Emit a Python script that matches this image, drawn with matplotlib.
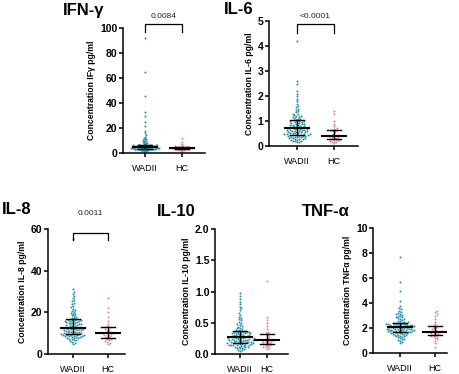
import numpy as np
import matplotlib
matplotlib.use("Agg")
import matplotlib.pyplot as plt

plt.rcParams['font.family'] = ['Liberation Sans', 'DejaVu Sans']

groups = ["WADII", "HC"]
wadii_color = "#2f93a8"
hc_color = "#e0899a"

# IFN-gamma (pg/ml)
ifn_wadii = [1.5, 1.8, 2.0, 2.1, 2.3, 2.4, 2.5, 2.6, 2.7, 2.8, 2.9, 2.9, 3.0, 3.0, 3.1, 3.1, 3.2, 3.2, 3.3, 3.3, 3.4, 3.4, 3.4, 3.5, 3.5,
             3.6, 3.6, 3.7, 3.7, 3.8, 3.8, 3.9, 3.9, 4.0, 4.0, 4.1, 4.1, 4.2, 4.2, 4.3, 4.4, 4.4, 4.5, 4.5, 4.6, 4.7, 4.8, 4.8, 4.9, 5.0,
             5.0, 5.1, 5.1, 5.2, 5.3, 5.3, 5.4, 5.5, 5.5, 5.6, 5.7, 5.7, 5.8, 5.9, 5.9, 6.0, 6.0, 6.1, 6.1, 6.2, 6.3, 6.3, 6.4, 6.5, 6.5,
             6.7, 7.0, 7.3, 7.6, 8.0, 8.3, 8.7, 9.0, 9.5, 10.0, 10.5, 11.0, 11.5, 12.0, 13.0, 14.5, 16.0, 18.0, 22.0, 25.0, 30.0, 33.0, 46.0, 65.0, 92.0]
ifn_hc = [2.0, 2.3, 2.5, 2.7, 2.9, 3.0, 3.1, 3.2, 3.4, 3.5, 3.6, 3.7, 3.8, 3.9, 4.0, 4.0, 4.1, 4.2, 4.3, 4.4, 4.5, 4.6, 4.8, 4.9, 5.0,
          5.2, 5.5, 5.8, 6.3, 7.0, 9.0, 12.0]

# IL-6
il6_wadii = [0.15, 0.17, 0.19, 0.2, 0.22, 0.24, 0.25, 0.27, 0.28, 0.3, 0.31, 0.32, 0.33, 0.35, 0.36, 0.37, 0.38, 0.39, 0.4, 0.41, 0.42, 0.43, 0.44, 0.44, 0.45,
             0.46, 0.47, 0.48, 0.49, 0.5, 0.51, 0.52, 0.53, 0.54, 0.55, 0.56, 0.57, 0.58, 0.59, 0.6, 0.61, 0.62, 0.63, 0.64, 0.65, 0.66, 0.67, 0.68, 0.69, 0.7,
             0.71, 0.72, 0.74, 0.75, 0.76, 0.78, 0.79, 0.8, 0.82, 0.83, 0.85, 0.86, 0.88, 0.89, 0.9, 0.92, 0.93, 0.95, 0.96, 0.98, 0.99, 1.0, 1.02, 1.03, 1.05,
             1.08, 1.1, 1.12, 1.15, 1.18, 1.2, 1.22, 1.25, 1.28, 1.3, 1.35, 1.4, 1.45, 1.5, 1.55, 1.6, 1.7, 1.8, 1.9, 2.0, 2.1, 2.2, 2.5, 2.6, 4.2]
il6_hc = [0.12, 0.15, 0.18, 0.2, 0.22, 0.24, 0.25, 0.27, 0.3, 0.32, 0.34, 0.36, 0.38, 0.4, 0.4, 0.42, 0.44, 0.46, 0.5, 0.55,
          0.6, 0.63, 0.65, 0.68, 0.72, 0.8, 0.9, 1.0, 1.3, 1.4]

# IL-8
il8_wadii = [5.0, 5.5, 6.0, 6.3, 6.6, 6.9, 7.1, 7.3, 7.5, 7.7, 7.9, 8.0, 8.2, 8.3, 8.5, 8.6, 8.7, 8.8, 8.9, 9.0, 9.1, 9.2, 9.3, 9.4, 9.5,
             9.6, 9.7, 9.8, 9.9, 10.0, 10.1, 10.3, 10.4, 10.5, 10.7, 10.8, 11.0, 11.1, 11.2, 11.4, 11.5, 11.6, 11.8, 11.9, 12.0, 12.1, 12.2, 12.3, 12.4, 12.5,
             12.6, 12.8, 12.9, 13.1, 13.3, 13.5, 13.7, 13.8, 14.0, 14.2, 14.4, 14.5, 14.7, 14.9, 15.0, 15.2, 15.4, 15.5, 15.7, 15.8, 16.0, 16.1, 16.2, 16.4, 16.5,
             16.8, 17.1, 17.5, 17.8, 18.2, 18.6, 19.0, 19.4, 19.8, 20.3, 20.8, 21.3, 21.8, 22.4, 23.0, 23.8, 24.5, 25.3, 26.0, 27.0, 28.0, 29.0, 30.0, 31.0, 55.0]
il8_hc = [5.0, 5.5, 6.0, 6.3, 6.7, 7.0, 7.2, 7.5, 8.0, 8.3, 8.7, 9.0, 9.3, 9.6, 10.0, 10.0, 10.4, 10.8, 11.2, 11.6,
          12.0, 12.5, 13.0, 13.5, 14.5, 16.0, 18.0, 20.0, 22.0, 27.0]

# IL-10
il10_wadii = [0.05, 0.06, 0.07, 0.08, 0.09, 0.10, 0.10, 0.11, 0.11, 0.12, 0.12, 0.13, 0.13, 0.14, 0.14, 0.14, 0.15, 0.15, 0.15, 0.16, 0.16, 0.16, 0.17, 0.17, 0.17,
              0.18, 0.18, 0.19, 0.19, 0.19, 0.2, 0.2, 0.2, 0.21, 0.21, 0.21, 0.22, 0.22, 0.22, 0.23, 0.23, 0.23, 0.24, 0.24, 0.24, 0.25, 0.25, 0.25, 0.26, 0.26,
              0.27, 0.27, 0.28, 0.28, 0.29, 0.29, 0.3, 0.3, 0.3, 0.31, 0.31, 0.32, 0.32, 0.33, 0.33, 0.33, 0.34, 0.34, 0.35, 0.35, 0.35, 0.36, 0.36, 0.37, 0.37,
              0.38, 0.39, 0.4, 0.41, 0.42, 0.44, 0.45, 0.47, 0.48, 0.5, 0.52, 0.54, 0.56, 0.58, 0.6, 0.63, 0.66, 0.7, 0.73, 0.76, 0.8, 0.84, 0.88, 0.93, 0.98]
il10_hc = [0.08, 0.1, 0.11, 0.12, 0.13, 0.14, 0.15, 0.16, 0.17, 0.18, 0.19, 0.2, 0.21, 0.21, 0.22, 0.22, 0.23, 0.24, 0.26, 0.28,
           0.3, 0.32, 0.33, 0.35, 0.4, 0.45, 0.5, 0.55, 0.6, 1.17]

# TNF-alpha
tnf_wadii = [0.8, 0.9, 1.0, 1.05, 1.1, 1.15, 1.2, 1.25, 1.3, 1.33, 1.36, 1.4, 1.42, 1.45, 1.48, 1.5, 1.52, 1.55, 1.57, 1.6, 1.62, 1.64, 1.66, 1.68, 1.7,
             1.71, 1.72, 1.74, 1.75, 1.76, 1.78, 1.79, 1.8, 1.82, 1.83, 1.85, 1.86, 1.88, 1.89, 1.9, 1.92, 1.93, 1.95, 1.96, 1.98, 1.99, 2.0, 2.02, 2.03, 2.05,
             2.06, 2.08, 2.09, 2.1, 2.12, 2.13, 2.15, 2.16, 2.18, 2.19, 2.2, 2.22, 2.23, 2.25, 2.26, 2.28, 2.29, 2.3, 2.32, 2.33, 2.35, 2.36, 2.38, 2.39, 2.4,
             2.45, 2.5, 2.55, 2.6, 2.65, 2.7, 2.75, 2.8, 2.85, 2.9, 2.95, 3.0, 3.05, 3.1, 3.15, 3.2, 3.3, 3.4, 3.5, 3.6, 3.8, 4.2, 5.0, 5.7, 7.7]
tnf_hc = [0.5, 0.8, 1.0, 1.1, 1.2, 1.3, 1.35, 1.4, 1.45, 1.5, 1.55, 1.6, 1.65, 1.7, 1.7, 1.72, 1.75, 1.8, 1.85, 1.9,
          2.0, 2.1, 2.15, 2.3, 2.5, 2.7, 3.0, 3.1, 3.3, 3.4]

titles = ["IFN-γ", "IL-6", "IL-8", "IL-10", "TNF-α"]
ylabels = ["Concentration IFγ pg/ml", "Concentration IL-6 pg/ml", "Concentration IL-8 pg/ml",
           "Concentration IL-10 pg/ml", "Concentration TNFα pg/ml"]
ymaxes = [100, 5, 60, 2.0, 10]
ysteps = [20, 1, 20, 0.5, 2]
pvalues = ["0.0084", "<0.0001", "0.0011", None, None]

# layout in pixels: spine x, top y, right x, bottom y, WADII x, HC x
W, H = 460, 374
boxes = [(123, 28, 205, 153, 145, 182), (269, 21, 358, 146, 297, 334), (48, 229, 125, 354, 73, 108),
         (215, 229, 288, 354, 240, 267), (373, 228, 447, 353, 400, 435)]
title_pos = [(63, 10), (224, 9), (2, 210), (157, 211), (302, 211)]
bracket_pos = [(24, 32, 17), (24, 33, 17), (233, 240, 214), None, None]

data = [(ifn_wadii, ifn_hc), (il6_wadii, il6_hc), (il8_wadii, il8_hc), (il10_wadii, il10_hc), (tnf_wadii, tnf_hc)]


def swarm(vals, ppy, d=2.3, maxw=13.0):
    # simple beeswarm in pixel space, returns x offsets in pixels
    order = np.argsort(vals)
    ys = np.asarray(vals)[order] * ppy
    placed = []
    xs = np.zeros(len(ys))
    for i, y in enumerate(ys):
        near = [(px, py) for px, py in placed if abs(py - y) < d]
        cands = [0.0]
        for px, py in near:
            dx = np.sqrt(d * d - (py - y) ** 2)
            cands += [px + dx, px - dx]
        cands.sort(key=abs)
        for c in cands:
            if all((c - px) ** 2 + (y - py) ** 2 >= d * d - 1e-6 for px, py in near):
                xs[i] = c
                break
        placed.append((xs[i], y))
    out = np.zeros(len(ys))
    out[order] = xs
    m = np.abs(out).max()
    if m > maxw:
        out = out * maxw / m
    return out


fig = plt.figure(figsize=(W / 100, H / 100), dpi=100)

for k in range(5):
    x0, y0, x1, y1, gw, gh = boxes[k]
    ax = fig.add_axes([x0 / W, 1 - y1 / H, (x1 - x0) / W, (y1 - y0) / H])
    ppx = gh - gw
    ppy = (y1 - y0) / ymaxes[k]
    ax.set_xlim((x0 - gw) / ppx, (x1 - gw) / ppx)
    ax.set_ylim(0, ymaxes[k])
    for g, (vals, col) in enumerate(zip(data[k], [wadii_color, hc_color])):
        vals = np.asarray(vals)
        off = swarm(vals, ppy, maxw=14.0 if g == 0 else 12.0)
        ax.scatter(g + off / ppx, vals, s=2.2, color=col, linewidths=0, zorder=2, clip_on=False)
        q1, med, q3 = np.percentile(vals, [25, 50, 75])
        ax.plot([g - 12 / ppx, g + 12 / ppx], [med, med], color="black", lw=1.5, zorder=3)
        ax.plot([g, g], [q1, q3], color="black", lw=1.0, zorder=3)
        for q in (q1, q3):
            ax.plot([g - 7 / ppx, g + 7 / ppx], [q, q], color="black", lw=1.0, zorder=3)
    for s in ["top", "right"]:
        ax.spines[s].set_visible(False)
    for s in ["left", "bottom"]:
        ax.spines[s].set_linewidth(1.1)
    ax.set_xticks([0, 1])
    ax.set_xticklabels(groups, fontsize=6.5)
    ax.set_yticks(np.arange(0, ymaxes[k] + 1e-9, ysteps[k]))
    if k == 3:
        ax.set_yticklabels(["%.1f" % v for v in ax.get_yticks()])
    ax.tick_params(axis="y", labelsize=7.5, width=1.1, length=3, pad=1)
    ax.tick_params(axis="x", width=1.1, length=3, pad=5)
    for lab in ax.get_yticklabels():
        lab.set_fontweight("bold")
    ax.set_ylabel(ylabels[k], fontsize=6.2, fontweight="bold", labelpad=3)
    ax.patch.set_alpha(0)

    tx, ty = title_pos[k]
    fig.text(tx / W, 1 - ty / H, titles[k], fontsize=12, fontweight="bold", va="center", ha="left")

    if bracket_pos[k] is not None:
        by, leg, ly = bracket_pos[k]
        fig.lines.append(plt.Line2D([gw / W, gw / W, gh / W, gh / W],
                                    [1 - leg / H, 1 - by / H, 1 - by / H, 1 - leg / H],
                                    transform=fig.transFigure, color="black", lw=0.9))
        fig.text((gw + gh) / 2 / W, 1 - ly / H, pvalues[k], fontsize=6, ha="center", va="center", color="#222222")

fig.savefig("out.png", dpi=100)
